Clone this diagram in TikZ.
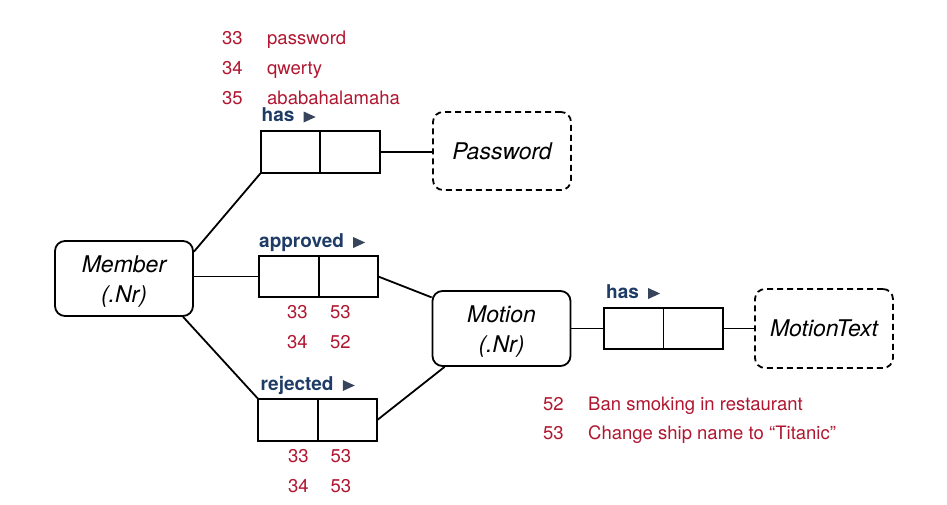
\documentclass[tikz,border=0pt]{standalone}
\usepackage{fontspec}
\setmainfont{TeX Gyre Heros}
\usetikzlibrary{calc}
\definecolor{numred}{RGB}{176,22,48}
\definecolor{relblue}{RGB}{30,60,102}
\definecolor{trigrey}{RGB}{55,68,92}
\tikzset{
  ent/.style={draw, line width=1.8pt, rounded corners=10pt, minimum width=138pt,
    minimum height=75pt, align=center, inner sep=0pt,
    font=\fontsize{23}{30}\selectfont\itshape},
  weakent/.style={ent, dash pattern=on 6pt off 4pt},
  cell/.style={draw, line width=1.8pt, minimum width=59.5pt, minimum height=42pt,
    inner sep=0pt, outer sep=0pt},
  lnk/.style={line width=1.8pt},
  rellab/.style={text=relblue, anchor=base west, inner sep=0pt,
    font=\fontsize{19}{22}\selectfont\bfseries},
  redtxt/.style={text=numred, anchor=base west, inner sep=0pt,
    font=\fontsize{18.5}{22}\selectfont},
  tri/.style={fill=trigrey}
}
\newcommand{\topstrut}{\rule{0pt}{23pt}}
\begin{document}
\begin{tikzpicture}[x=1pt,y=-1pt]
\useasboundingbox (0,0) rectangle (947,504);

% entities
\node[ent] (member) at (124,278.5) {\topstrut Member\\(.Nr)};
\node[ent] (motion) at (501.5,328.5) {\topstrut Motion\\(.Nr)};
\node[weakent, minimum height=78pt] (password) at (502,151) {Password};
\node[weakent, minimum height=79pt] (mtext) at (824,328.5) {MotionText};

% role boxes
\node[cell] (h1a) at (290.5,152) {};
\node[cell, anchor=west] (h1b) at (h1a.east) {};
\node[cell, minimum height=41pt] (apa) at (289,276.5) {};
\node[cell, minimum height=41pt, anchor=west] (apb) at (apa.east) {};
\node[cell, minimum height=41pt] (h2a) at (633.75,328.5) {};
\node[cell, minimum height=41pt, anchor=west] (h2b) at (h2a.east) {};
\node[cell] (rja) at (288,420) {};
\node[cell, anchor=west] (rjb) at (rja.east) {};

% relationship labels
\node[rellab] (l1) at (261.5,121.5) {has};
\node[rellab] (l2) at (259,247) {approved};
\node[rellab] (l3) at (606,298) {has};
\node[rellab] (l4) at (260.5,390) {rejected};
\foreach \l in {l1,l2,l3,l4}{
  \fill[tri] ($(\l.base east)+(9,1)$) -- ++(0,-11) -- ++(12,5.5) -- cycle;
}

% connectors
\draw[lnk] (member.21) -- (h1a.south west);
\draw[lnk] (member.east |- apa.west) -- (apa.west);
\draw[lnk] (member.-33) -- (rja.north west);
\draw[lnk] (apb.east) -- (motion.156);
\draw[lnk] (rjb.east) -- (motion.214);
\draw[lnk] (h1b.east) -- (h1b.east -| password.west);
\draw[lnk] (motion.east |- h2a.west) -- (h2a.west);
\draw[lnk] (h2b.east) -- (h2b.east -| mtext.west);

% sample data
\node[redtxt] (p33) at (222,44) {33};
\node[redtxt] (p33t) at (267,44) {password};
\node[redtxt] (p34) at (222,74.5) {34};
\node[redtxt] (p34t) at (267,74.5) {qwerty};
\node[redtxt] (p35) at (222,104) {35};
\node[redtxt] (p35t) at (267,104) {ababahalamaha};

\node[redtxt] (a1) at (287,318) {33};
\node[redtxt] (a2) at (330,318) {53};
\node[redtxt] (a3) at (287,348) {34};
\node[redtxt] (a4) at (330,348) {52};

\node[redtxt] (r1) at (288,462) {33};
\node[redtxt] (r2) at (330.5,462) {53};
\node[redtxt] (r3) at (288,492) {34};
\node[redtxt] (r4) at (330.5,492) {53};

\node[redtxt] (m52) at (543,410) {52};
\node[redtxt] (m52t) at (588,410) {Ban smoking in restaurant};
\node[redtxt] (m53) at (543,439.5) {53};
\node[redtxt] (m53t) at (588,439.5) {Change ship name to “Titanic”};
\end{tikzpicture}
\end{document}
